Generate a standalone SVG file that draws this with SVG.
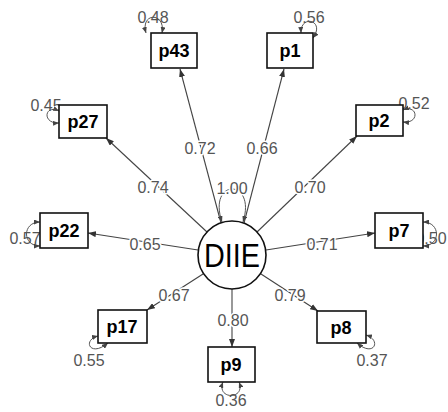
<svg xmlns="http://www.w3.org/2000/svg" width="448" height="412" viewBox="0 0 448 412">
<defs>
<marker id="ah" markerWidth="8" markerHeight="6" refX="8" refY="3" orient="auto-start-reverse" markerUnits="userSpaceOnUse">
<path d="M0,0 L8,3 L0,6 Z" fill="#333"/>
</marker>
<marker id="rh" markerWidth="6" markerHeight="5" refX="6" refY="2.5" orient="auto-start-reverse" markerUnits="userSpaceOnUse">
<path d="M0,0 L6,2.5 L0,5 Z" fill="#444"/>
</marker>
</defs>
<style>
.edge{stroke:#444;stroke-width:1.1;fill:none;marker-end:url(#ah)}
.loop{stroke:#555;stroke-width:1;fill:none;marker-start:url(#rh);marker-end:url(#rh)}
.box{fill:#fff;stroke:#111;stroke-width:1.6}
.nl{font-family:"Liberation Sans",Arial,sans-serif;font-weight:bold;font-size:18px;fill:#000;text-anchor:middle}
.el{font-family:"Liberation Sans",Arial,sans-serif;font-size:16px;fill:#555;text-anchor:middle;stroke:#fff;stroke-width:3;paint-order:stroke;stroke-linejoin:round}
.rl{font-family:"Liberation Sans",Arial,sans-serif;font-size:16px;fill:#555;text-anchor:middle}
</style>
<rect width="448" height="412" fill="#fff"/>
<g id="connectors">
<path class="edge" d="M221,223 L180,69"/>
<path class="edge" d="M244,223 L284,69"/>
<path class="edge" d="M207,232 L106,138"/>
<path class="edge" d="M257,232 L357,136"/>
<path class="edge" d="M198,250 L88,233"/>
<path class="edge" d="M266,250 L375,233"/>
<path class="edge" d="M203,274 L147,310"/>
<path class="edge" d="M232,289 L232,347"/>
<path class="edge" d="M261,274 L318,311"/>
<path class="loop" d="M222,222 C207,178 257,178 243,222"/>
<path class="loop" d="M146,33 C140,12 166,12 162,33"/>
<path class="loop" d="M301,33 C300,14 326,20 313,38"/>
<path class="loop" d="M59,111 C44,104 42,124 59,123"/>
<path class="loop" d="M403,110 C418,104 420,124 403,122"/>
<path class="loop" d="M40,222 C22,222 22,246 40,246"/>
<path class="loop" d="M423,222 C441,222 441,246 423,246"/>
<path class="loop" d="M98,336 C82,340 90,358 108,343"/>
<path class="loop" d="M366,335 C382,340 374,358 357,343"/>
<path class="loop" d="M223,382 C216,400 246,400 239,382"/>
<text class="el" x="200" y="154">0.72</text>
<text class="el" x="262" y="154">0.66</text>
<text class="el" x="232" y="194">1.00</text>
<text class="el" x="153" y="193">0.74</text>
<text class="el" x="310" y="193">0.70</text>
<text class="el" x="145" y="250">0.65</text>
<text class="el" x="322" y="250">0.71</text>
<text class="el" x="174" y="301">0.67</text>
<text class="el" x="233" y="326">0.80</text>
<text class="el" x="290" y="301">0.79</text>
<text class="rl" x="153" y="23">0.48</text>
<text class="rl" x="309" y="23">0.56</text>
<text class="rl" x="46" y="111">0.45</text>
<text class="rl" x="414" y="109">0.52</text>
<text class="rl" x="25" y="244">0.57</text>
<text class="rl" x="431" y="244">0.50</text>
<text class="rl" x="89" y="366">0.55</text>
<text class="rl" x="372" y="366">0.37</text>
<text class="rl" x="231" y="406">0.36</text>
</g>
<g id="DIIE">
<circle cx="232" cy="255" r="34" fill="#fff" stroke="#111" stroke-width="1.6"/>
<text x="232" y="267" font-family="'Liberation Sans',Arial,sans-serif" font-size="33" text-anchor="middle" textLength="56" lengthAdjust="spacingAndGlyphs" fill="#000">DIIE</text>
</g>
<g id="p43"><rect class="box" x="151" y="33" width="46" height="35"/><text class="nl" x="174" y="57">p43</text></g>
<g id="p1"><rect class="box" x="267" y="33" width="46" height="35"/><text class="nl" x="290" y="57">p1</text></g>
<g id="p27"><rect class="box" x="59" y="105" width="48" height="33"/><text class="nl" x="83" y="128">p27</text></g>
<g id="p2"><rect class="box" x="356" y="105" width="47" height="31"/><text class="nl" x="379" y="127">p2</text></g>
<g id="p22"><rect class="box" x="40" y="213" width="48" height="35"/><text class="nl" x="64" y="237">p22</text></g>
<g id="p7"><rect class="box" x="375" y="213" width="48" height="35"/><text class="nl" x="399" y="237">p7</text></g>
<g id="p17"><rect class="box" x="98" y="310" width="49" height="33"/><text class="nl" x="122" y="333">p17</text></g>
<g id="p9"><rect class="box" x="208" y="347" width="47" height="35"/><text class="nl" x="231" y="371">p9</text></g>
<g id="p8"><rect class="box" x="317" y="311" width="49" height="32"/><text class="nl" x="341" y="334">p8</text></g>
</svg>
